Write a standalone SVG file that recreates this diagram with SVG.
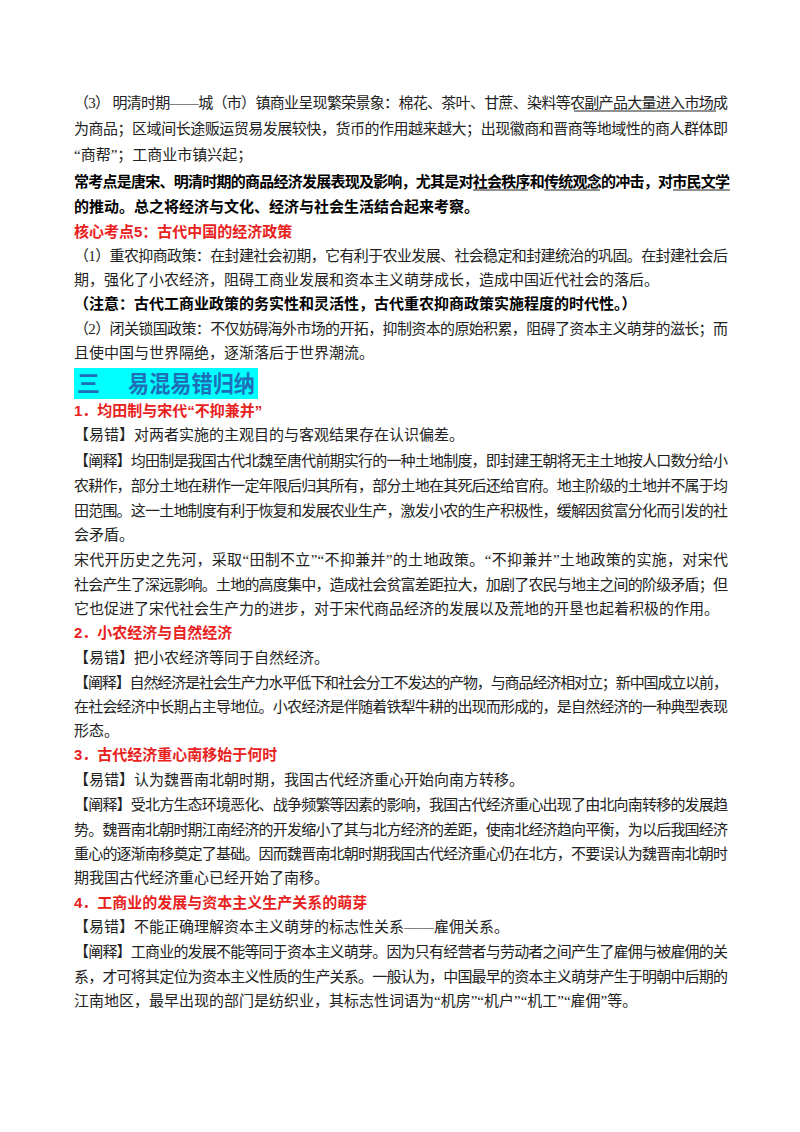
<svg xmlns="http://www.w3.org/2000/svg" width="800" height="1132" viewBox="0 0 800 1132">
<style>
text{font-family:"Liberation Serif","Noto Sans CJK SC",serif;font-size:15px;fill:#222}
.b{font-family:"Liberation Sans","Noto Sans CJK SC",sans-serif;font-weight:bold;fill:#000}
.r{font-family:"Liberation Sans","Noto Sans CJK SC",sans-serif;font-weight:bold;fill:#e8211d}
.u{stroke:#222;stroke-width:1}
</style>
<rect width="800" height="1132" fill="#fff"/>
<g id="p1">
<text x="74" y="108" textLength="654" lengthAdjust="spacing">（3） 明清时期——城（市）镇商业呈现繁荣景象：棉花、茶叶、甘蔗、染料等农副产品大量进入市场成</text>
<line class="u" x1="574" y1="111" x2="716" y2="111"/>
<text x="74" y="134" textLength="654" lengthAdjust="spacing">为商品；区域间长途贩运贸易发展较快，货币的作用越来越大；出现徽商和晋商等地域性的商人群体即</text>
<text x="74" y="160">“商帮”；工商业市镇兴起；</text>
<text class="b" x="74" y="187" textLength="656" lengthAdjust="spacing">常考点是唐宋、明清时期的商品经济发展表现及影响，尤其是对社会秩序和传统观念的冲击，对市民文学</text>
<line class="u" x1="473" y1="190" x2="528" y2="190" stroke="#000"/>
<line class="u" x1="544" y1="190" x2="600" y2="190" stroke="#000"/>
<line class="u" x1="673" y1="190" x2="730" y2="190" stroke="#000"/>
<text class="b" x="74" y="212">的推动。总之将经济与文化、经济与社会生活结合起来考察。</text>
</g>
<g id="p2">
<text class="r" x="74" y="237">核心考点5：古代中国的经济政策</text>
<text x="74" y="261" textLength="654" lengthAdjust="spacing">（1）重农抑商政策：在封建社会初期，它有利于农业发展、社会稳定和封建统治的巩固。在封建社会后</text>
<text x="74" y="285">期，强化了小农经济，阻碍工商业发展和资本主义萌芽成长，造成中国近代社会的落后。</text>
<text class="b" x="74" y="309">（注意：古代工商业政策的务实性和灵活性，古代重农抑商政策实施程度的时代性。）</text>
<text x="74" y="334" textLength="654" lengthAdjust="spacing">（2）闭关锁国政策：不仅妨碍海外市场的开拓，抑制资本的原始积累，阻碍了资本主义萌芽的滋长；而</text>
<text x="74" y="358">且使中国与世界隔绝，逐渐落后于世界潮流。</text>
</g>
<g id="heading">
<rect x="74" y="368" width="184" height="31" fill="#00ffff"/>
<text class="b" x="77" y="392" style="font-size:23px;fill:#1f6fb8">三</text>
<text class="b" x="128" y="392" textLength="127" lengthAdjust="spacingAndGlyphs" style="font-size:23px;fill:#1f6fb8">易混易错归纳</text>
</g>
<g id="s1">
<text class="r" x="74" y="416">1．均田制与宋代“不抑兼并”</text>
<text x="74" y="440">【易错】对两者实施的主观目的与客观结果存在认识偏差。</text>
<text x="74" y="466" textLength="654" lengthAdjust="spacing">【阐释】均田制是我国古代北魏至唐代前期实行的一种土地制度，即封建王朝将无主土地按人口数分给小</text>
<text x="74" y="491" textLength="654" lengthAdjust="spacing">农耕作，部分土地在耕作一定年限后归其所有，部分土地在其死后还给官府。地主阶级的土地并不属于均</text>
<text x="74" y="516" textLength="654" lengthAdjust="spacing">田范围。这一土地制度有利于恢复和发展农业生产，激发小农的生产积极性，缓解因贫富分化而引发的社</text>
<text x="74" y="540">会矛盾。</text>
<text x="74" y="565" textLength="654" lengthAdjust="spacing">宋代开历史之先河，采取“田制不立”“不抑兼并”的土地政策。“不抑兼并”土地政策的实施，对宋代</text>
<text x="74" y="590" textLength="654" lengthAdjust="spacing">社会产生了深远影响。土地的高度集中，造成社会贫富差距拉大，加剧了农民与地主之间的阶级矛盾；但</text>
<text x="74" y="614">它也促进了宋代社会生产力的进步，对于宋代商品经济的发展以及荒地的开垦也起着积极的作用。</text>
</g>
<g id="s2">
<text class="r" x="74" y="638">2．小农经济与自然经济</text>
<text x="74" y="663">【易错】把小农经济等同于自然经济。</text>
<text x="74" y="688" textLength="654" lengthAdjust="spacing">【阐释】自然经济是社会生产力水平低下和社会分工不发达的产物，与商品经济相对立；新中国成立以前，</text>
<text x="74" y="712" textLength="654" lengthAdjust="spacing">在社会经济中长期占主导地位。小农经济是伴随着铁犁牛耕的出现而形成的，是自然经济的一种典型表现</text>
<text x="74" y="736">形态。</text>
</g>
<g id="s3">
<text class="r" x="74" y="760">3．古代经济重心南移始于何时</text>
<text x="74" y="785">【易错】认为魏晋南北朝时期，我国古代经济重心开始向南方转移。</text>
<text x="74" y="810" textLength="654" lengthAdjust="spacing">【阐释】受北方生态环境恶化、战争频繁等因素的影响，我国古代经济重心出现了由北向南转移的发展趋</text>
<text x="74" y="835" textLength="654" lengthAdjust="spacing">势。魏晋南北朝时期江南经济的开发缩小了其与北方经济的差距，使南北经济趋向平衡，为以后我国经济</text>
<text x="74" y="859" textLength="654" lengthAdjust="spacing">重心的逐渐南移奠定了基础。因而魏晋南北朝时期我国古代经济重心仍在北方，不要误认为魏晋南北朝时</text>
<text x="74" y="883">期我国古代经济重心已经开始了南移。</text>
</g>
<g id="s4">
<text class="r" x="74" y="908">4．工商业的发展与资本主义生产关系的萌芽</text>
<text x="74" y="932">【易错】不能正确理解资本主义萌芽的标志性关系——雇佣关系。</text>
<text x="74" y="957" textLength="654" lengthAdjust="spacing">【阐释】工商业的发展不能等同于资本主义萌芽。因为只有经营者与劳动者之间产生了雇佣与被雇佣的关</text>
<text x="74" y="982" textLength="654" lengthAdjust="spacing">系，才可将其定位为资本主义性质的生产关系。一般认为，中国最早的资本主义萌芽产生于明朝中后期的</text>
<text x="74" y="1006">江南地区，最早出现的部门是纺织业，其标志性词语为“机房”“机户”“机工”“雇佣”等。</text>
</g>
</svg>
